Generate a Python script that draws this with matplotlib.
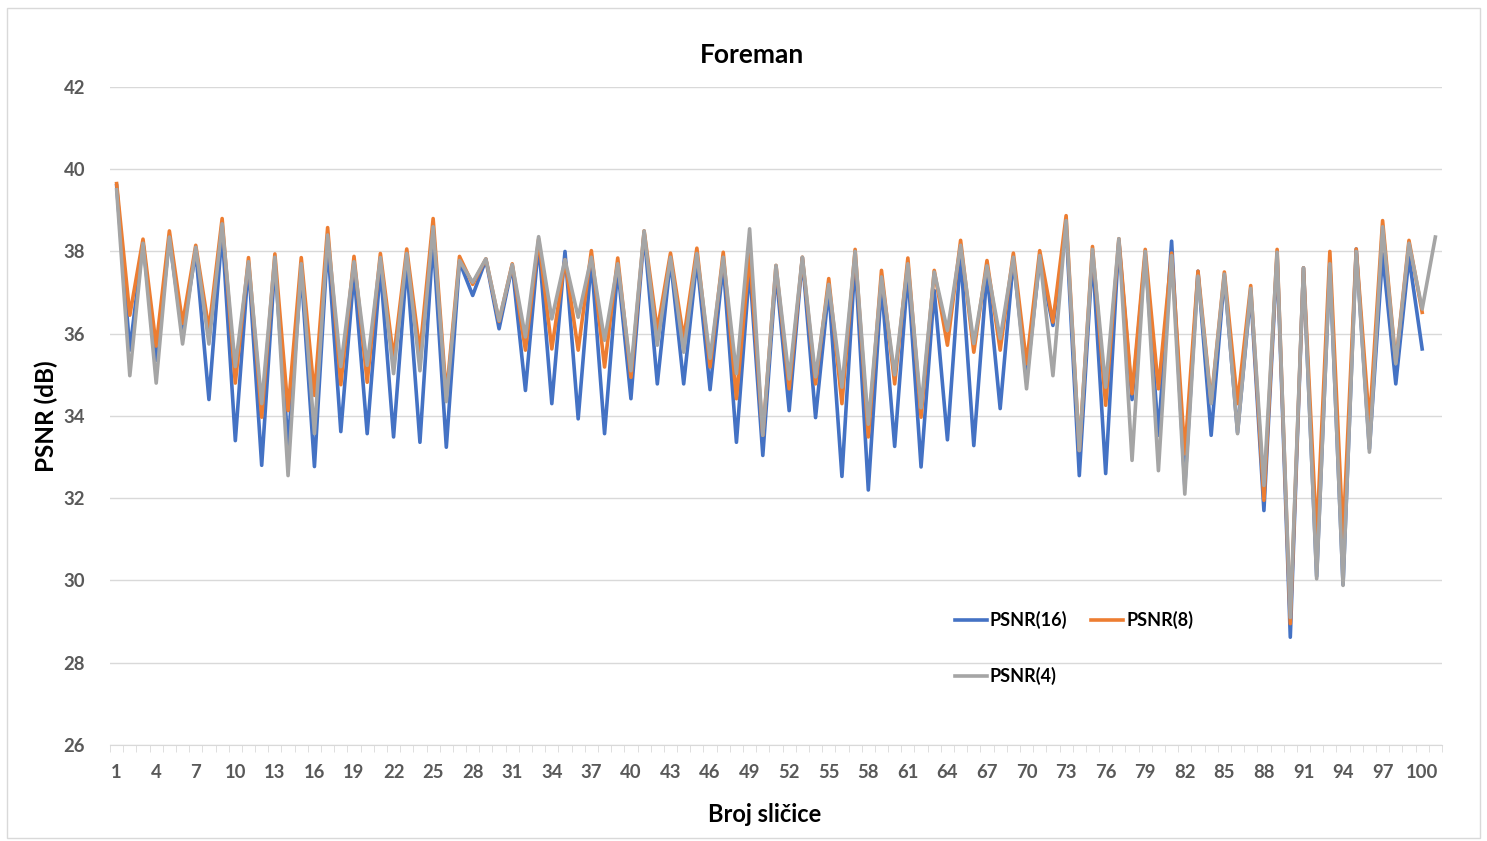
import matplotlib.pyplot as plt
import numpy as np
from matplotlib.patches import Rectangle

plt.rcParams['font.family'] = ['Lato', 'DejaVu Sans']

# PSNR po slicici (Foreman), ocitano sa slike
psnr16 = [39.6, 35.6, 38.2, 35.35, 38.3, 36.0, 38.0, 34.4, 38.5, 33.4,
          37.7, 32.8, 37.7, 33.3, 37.5, 32.77, 38.2, 33.62, 37.5, 33.57,
          37.6, 33.49, 37.7, 33.36, 38.3, 33.24, 37.75, 36.93, 37.8, 36.12,
          37.65, 34.62, 38.2, 34.3, 38.0, 33.93, 37.8, 33.57, 37.6, 34.42,
          38.45, 34.78, 37.8, 34.78, 37.8, 34.64, 37.7, 33.36, 37.6, 33.04,
          37.5, 34.13, 37.85, 33.96, 37.1, 32.53, 37.8, 32.2, 37.2, 33.26,
          37.5, 32.76, 37.05, 33.42, 37.9, 33.28, 37.5, 34.18, 37.8, 34.9,
          37.8, 36.2, 38.6, 32.55, 37.9, 32.6, 38.25, 34.4, 37.9, 33.53,
          38.25, 32.3, 37.52, 33.53, 37.4, 33.6, 37.0, 31.7, 37.9, 28.62,
          37.6, 30.1, 37.7, 29.9, 38.06, 33.2, 37.94, 34.78, 37.86, 35.63]
psnr8 = [39.65, 36.45, 38.3, 35.7, 38.5, 36.25, 38.15, 36.1, 38.8, 34.8,
         37.85, 33.97, 37.94, 34.13, 37.85, 34.5, 38.58, 34.76, 37.88, 34.82,
         37.95, 35.4, 38.06, 35.55, 38.8, 34.5, 37.88, 37.2, 37.82, 36.3,
         37.7, 35.6, 38.3, 35.63, 37.8, 35.6, 38.02, 35.19, 37.84, 34.94,
         38.5, 36.08, 37.96, 35.88, 38.08, 35.19, 37.98, 34.42, 37.94, 33.53,
         37.66, 34.66, 37.86, 34.78, 37.34, 34.3, 38.05, 33.49, 37.54, 34.78,
         37.84, 33.97, 37.54, 35.72, 38.27, 35.55, 37.78, 35.6, 37.96, 35.27,
         38.02, 36.28, 38.87, 33.16, 38.12, 34.26, 38.31, 34.54, 38.05, 34.66,
         37.96, 33.08, 37.52, 34.34, 37.5, 34.3, 37.17, 31.95, 38.05, 28.95,
         37.6, 31.05, 38.0, 31.05, 38.06, 33.8, 38.75, 35.3, 38.27, 36.52]
psnr4 = [39.5, 34.98, 38.2, 34.8, 38.35, 35.75, 38.1, 35.75, 38.67, 35.2,
         37.75, 34.3, 37.86, 32.55, 37.7, 33.57, 38.4, 35.2, 37.75, 35.23,
         37.85, 35.03, 37.95, 35.1, 38.6, 34.35, 37.78, 37.25, 37.82, 36.32,
         37.68, 35.92, 38.36, 36.36, 37.8, 36.4, 37.86, 35.84, 37.7, 35.1,
         38.5, 35.72, 37.86, 35.55, 37.95, 35.4, 37.86, 35.03, 38.55, 33.53,
         37.66, 34.9, 37.86, 34.95, 37.2, 34.7, 38.0, 33.8, 37.38, 35.0,
         37.7, 34.2, 37.5, 36.08, 38.15, 35.76, 37.65, 35.88, 37.86, 34.66,
         37.9, 34.98, 38.75, 33.16, 38.05, 34.7, 38.31, 32.92, 38.0, 32.67,
         37.9, 32.1, 37.4, 34.3, 37.45, 33.57, 37.1, 32.31, 37.98, 29.1,
         37.6, 30.04, 37.7, 29.88, 38.0, 33.12, 38.6, 35.27, 38.2, 36.6,
         38.35]

x16 = np.arange(1, len(psnr16) + 1)
x8 = np.arange(1, len(psnr8) + 1)
x4 = np.arange(1, len(psnr4) + 1)

fig = plt.figure(figsize=(14.87, 8.41), dpi=100)
ax = fig.add_axes([0.074, 0.1142, 0.8957, 0.7824])

l16, = ax.plot(x16, psnr16, color='#4472C4', lw=2.6, label='PSNR(16)')
l8, = ax.plot(x8, psnr8, color='#ED7D31', lw=2.6, label='PSNR(8)')
l4, = ax.plot(x4, psnr4, color='#A5A5A5', lw=2.6, label='PSNR(4)')

ax.set_xlim(0.5, 101.5)
ax.set_ylim(26, 42)
ax.set_yticks(np.arange(26, 43, 2))
ax.set_xticks(np.arange(1, 101, 3))
ax.set_xticks(np.arange(0.5, 101.6, 1), minor=True)
ax.tick_params(axis='x', which='major', length=0, pad=14)
ax.tick_params(axis='x', which='minor', length=5, color='#d9d9d9', direction='out')
ax.tick_params(axis='y', length=0, pad=18)
for lbl in ax.get_xticklabels() + ax.get_yticklabels():
    lbl.set_fontweight('bold')
    lbl.set_color('#595959')
    lbl.set_fontsize(13.3)

ax.grid(axis='y', color='#d9d9d9', lw=1)
ax.set_axisbelow(True)
for s in ['top', 'right', 'left']:
    ax.spines[s].set_visible(False)
ax.spines['bottom'].set_color('#d9d9d9')

fig.text(0.506, 0.935, 'Foreman', ha='center', va='center', fontsize=19, fontweight='bold')
fig.text(0.514, 0.031, 'Broj sličice', ha='center', va='center', fontsize=17, fontweight='bold')
fig.text(0.031, 0.505, 'PSNR (dB)', ha='center', va='center', rotation=90, fontsize=17.5, fontweight='bold')

# redoslijed za raspored po redovima: 16, 8 gore, 4 dolje
ax.legend([l16, l4, l8], ['PSNR(16)', 'PSNR(4)', 'PSNR(8)'], loc='upper left',
          bbox_to_anchor=(0.622, 0.228), ncol=2, frameon=False,
          handlelength=1.8, handletextpad=0.15, columnspacing=1.3, labelspacing=2.1,
          prop={'weight': 'bold', 'size': 13})

fig.patches.append(Rectangle((0.005, 0.003), 0.99, 0.988, transform=fig.transFigure,
                             fill=False, edgecolor='#d9d9d9', lw=1))

fig.savefig('out.png', dpi=100)
